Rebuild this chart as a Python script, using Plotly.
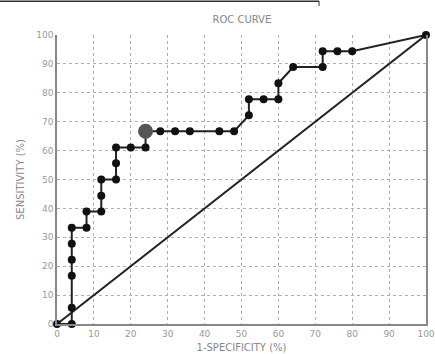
import plotly.graph_objects as go

fpr = [0, 4, 4, 4, 4, 4, 4, 8, 8, 12, 12, 12, 16, 16, 16, 20, 24, 24, 28, 32, 36, 44, 48, 52, 52, 56, 60, 60, 64, 72, 72, 76, 80, 100]
tpr = [0, 0, 5.6, 16.7, 22.2, 27.8, 33.3, 33.3, 38.9, 38.9, 44.4, 50, 50, 55.6, 61.1, 61.1, 61.1, 66.7, 66.7, 66.7, 66.7, 66.7, 66.7, 72.2, 77.8, 77.8, 77.8, 83.3, 88.9, 88.9, 94.4, 94.4, 94.4, 100]
opt_point = ([24], [66.7])
diag = ([0, 100], [0, 100])
ticks = [0, 10, 20, 30, 40, 50, 60, 70, 80, 90, 100]

fig = go.Figure()
fig.add_trace(go.Scatter(x=diag[0], y=diag[1], mode="lines",
                         line=dict(color="#222", width=2), cliponaxis=False, hoverinfo="skip"))
fig.add_trace(go.Scatter(x=fpr, y=tpr, mode="lines+markers",
                         line=dict(color="#222", width=2),
                         marker=dict(color="#111", size=8), cliponaxis=False))
fig.add_trace(go.Scatter(x=opt_point[0], y=opt_point[1], mode="markers",
                         marker=dict(color="#555", size=15), cliponaxis=False))

axis_common = dict(range=[0, 100], tickvals=ticks, showgrid=True, automargin=False,
                   gridcolor="#b0b0b0", griddash="dot", gridwidth=1,
                   showline=True, linecolor="#888", linewidth=1.5,
                   zeroline=False, ticks="", tickfont=dict(family="DejaVu Sans", size=9, color="#999"))

fig.update_layout(
    width=435, height=354,
    margin=dict(l=57, r=9, t=35, b=30),
    paper_bgcolor="white", plot_bgcolor="white",
    showlegend=False,
    title=dict(text="ROC CURVE", x=0.556, xanchor="center", y=0.945, yanchor="middle",
               font=dict(family="DejaVu Sans", size=10, color="#888")),
    xaxis=dict(**axis_common, mirror=False,
               title=dict(text="1-SPECIFICITY (%)", standoff=6,
                          font=dict(family="DejaVu Sans", size=10, color="#888"))),
    yaxis=dict(**axis_common, mirror=True,
               title=dict(text="SENSITIVITY (%)", standoff=10,
                          font=dict(family="DejaVu Sans", size=10, color="#888"))),
    shapes=[
        dict(type="line", xref="paper", yref="paper", x0=-57/369, x1=(319-57)/369,
             y0=(324-1.2)/289, y1=(324-1.2)/289, line=dict(color="#333", width=1.5)),
        dict(type="line", xref="paper", yref="paper", x0=(319-57)/369, x1=(319-57)/369,
             y0=(324-1)/289, y1=(324-6)/289, line=dict(color="#333", width=1)),
    ],
)

fig.write_html("out.html", config={"displayModeBar": False},
               post_script="document.body.style.margin='0';document.body.style.overflow='hidden';")
